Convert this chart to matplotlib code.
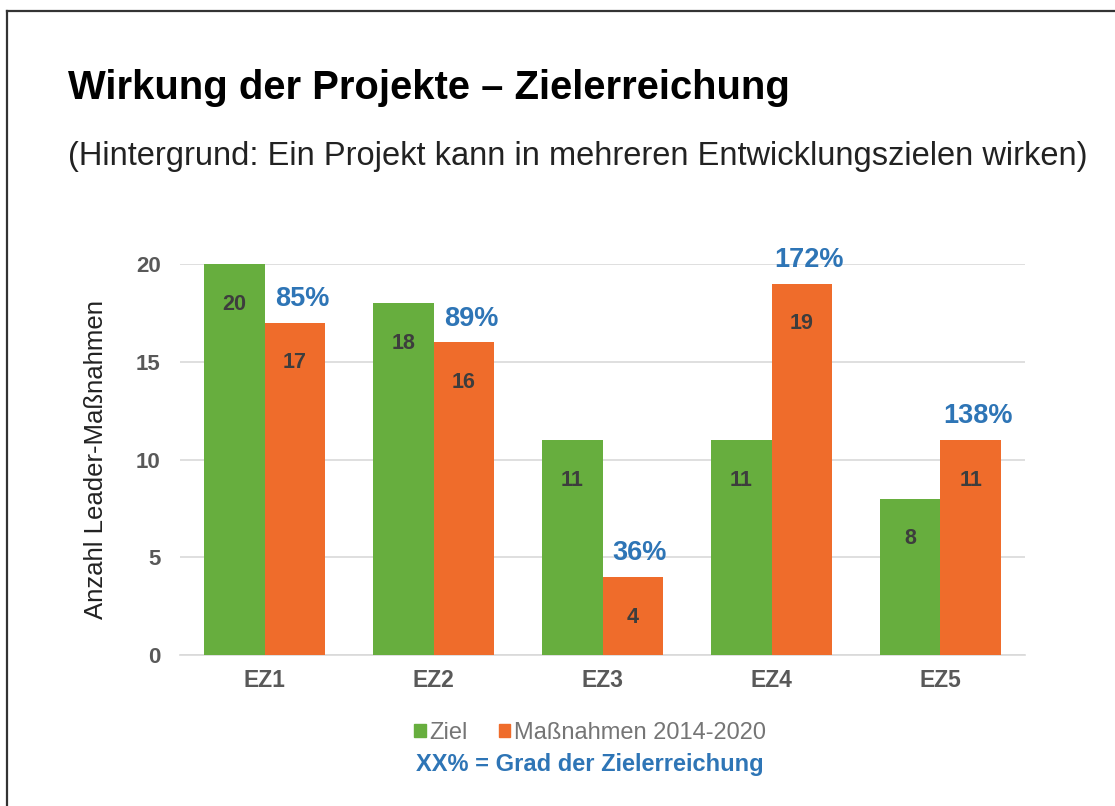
import matplotlib
matplotlib.use('Agg')
import matplotlib.pyplot as plt
import numpy as np
from matplotlib.patches import Patch
from matplotlib.lines import Line2D

plt.rcParams['font.family'] = ['Liberation Sans', 'DejaVu Sans']

# data
categories = ['EZ1', 'EZ2', 'EZ3', 'EZ4', 'EZ5']
ziel = [20, 18, 11, 11, 8]
massnahmen = [17, 16, 4, 19, 11]
grad = ['85%', '89%', '36%', '172%', '138%']
yticks = [0, 5, 10, 15, 20]

GREEN = '#67AE3E'
ORANGE = '#EF6C2B'
BLUE = '#2E75B6'
GRAY = '#595959'

fig = plt.figure(figsize=(11.15, 8.06), dpi=100)
fig.patch.set_facecolor('white')

# slide frame (top and left edges)
fig.add_artist(Line2D([7/1115, 1.0], [1 - 11/806, 1 - 11/806], color='#333333', lw=1.6))
fig.add_artist(Line2D([7/1115, 7/1115], [0.0, 1 - 11/806], color='#333333', lw=1.6))

fig.text(68/1115, 1 - 88/806, 'Wirkung der Projekte \u2013 Zielerreichung',
         fontsize=28.8, fontweight='bold', color='black', va='center', ha='left')
fig.text(68/1115, 1 - 157/806,
         '(Hintergrund: Ein Projekt kann in mehreren Entwicklungszielen wirken)',
         fontsize=23.5, color='#222222', va='center', ha='left')

ax = fig.add_axes([180/1115, 1 - 655/806, 845/1115, 391/806])
x = np.arange(len(categories))
w = 0.36
b1 = ax.bar(x - w/2, ziel, w, color=GREEN, zorder=3)
b2 = ax.bar(x + w/2, massnahmen, w, color=ORANGE, zorder=3)

ax.set_xlim(-0.5, len(categories) - 0.5)
ax.set_ylim(0, 20)
ax.set_yticks(yticks)
ax.set_xticks(x)
ax.set_xticklabels(categories)
ax.grid(axis='y', color='#D9D9D9', lw=1.2, zorder=0)
ax.set_axisbelow(True)
for s in ['top', 'right', 'left']:
    ax.spines[s].set_visible(False)
ax.spines['bottom'].set_color('#D9D9D9')
ax.spines['bottom'].set_linewidth(1.2)
ax.tick_params(length=0)
ax.tick_params(axis='y', pad=14, labelsize=16, labelcolor=GRAY)
ax.tick_params(axis='x', pad=10, labelsize=16.5, labelcolor=GRAY)
for lbl in ax.get_xticklabels() + ax.get_yticklabels():
    lbl.set_fontweight('bold')
ax.set_ylabel('Anzahl Leader-Maßnahmen', fontsize=18.5, color='#222222', labelpad=20)

# values inside the bars
for bars in (b1, b2):
    for r in bars:
        h = r.get_height()
        ax.annotate(f'{h:g}', (r.get_x() + r.get_width()/2, h),
                    xytext=(0, -29), textcoords='offset points',
                    ha='center', va='center', fontsize=15.5,
                    fontweight='bold', color='#3D3D3D', zorder=4)

# degree of target achievement above the orange bars
for r, g in zip(b2, grad):
    ax.annotate(g, (r.get_x() + r.get_width()/2, r.get_height()),
                xytext=(5, 17), textcoords='offset points',
                ha='center', va='center', fontsize=19.5,
                fontweight='bold', color=BLUE, annotation_clip=False)

handles = [Patch(color=GREEN, label='Ziel'),
           Patch(color=ORANGE, label='Maßnahmen 2014-2020')]
leg = fig.legend(handles=handles, loc='center', bbox_to_anchor=(590/1115, 1 - 733/806),
                 ncol=2, frameon=False, fontsize=17, handlelength=0.5,
                 handleheight=0.5, handletextpad=0.15, columnspacing=1.3)
for t in leg.get_texts():
    t.set_color('#757575')

fig.text(590/1115, 1 - 765/806, 'XX% = Grad der Zielerreichung',
         fontsize=17, fontweight='bold', color=BLUE, ha='center', va='center')

fig.savefig('out.png', dpi=100)
